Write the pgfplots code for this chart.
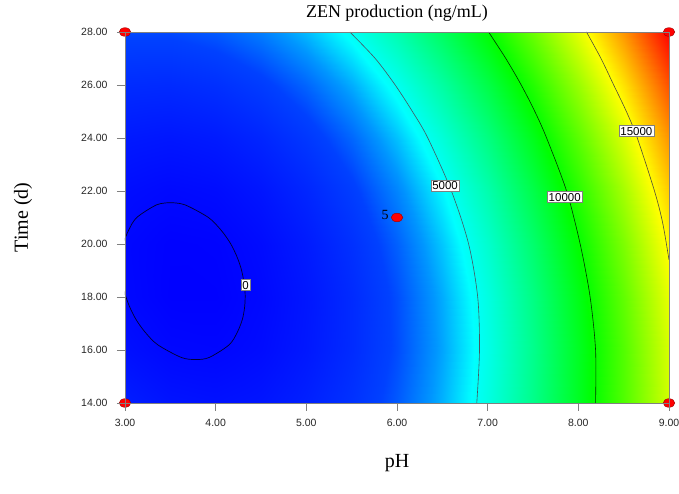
\documentclass[border=0pt]{standalone}
\usepackage{fontspec}
\setmainfont{Liberation Serif}
\setsansfont{Liberation Sans}
\usepackage{pgfplots}
\usepackage{pgfplotstable}
\pgfplotsset{compat=1.18}
\tikzset{clab/.style={fill=white, draw=gray, font=\sffamily\fontsize{11.5}{13}\selectfont, inner sep=1.4pt, line width=0.5pt}}

% response surface: pH (x), time in days (y), ZEN production (z)
\pgfplotstableread{
x y z
3.0 14 842
3.5 14 469
4.0 14 363
4.5 14 523
5.0 14 950
5.5 14 1643
6.0 14 2603
6.5 14 3829
7.0 14 5321
7.5 14 7081
8.0 14 9106
8.5 14 11399
9.0 14 13957
3.0 16 312
3.5 16 -9
4.0 16 -62
4.5 16 150
5.0 16 630
5.5 16 1376
6.0 16 2388
6.5 16 3667
7.0 16 5212
7.5 16 7024
8.0 16 9102
8.5 16 11447
9.0 16 14058
3.0 18 30
3.5 18 -238
4.0 18 -239
4.5 18 27
5.0 18 559
5.5 18 1357
6.0 18 2422
6.5 18 3753
7.0 18 5351
7.5 18 7216
8.0 18 9347
8.5 18 11744
9.0 18 14408
3.0 20 -2
3.5 20 -217
4.0 20 -166
4.5 20 153
5.0 20 737
5.5 20 1588
6.0 20 2705
6.5 20 4089
7.0 20 5740
7.5 20 7657
8.0 20 9840
8.5 20 12290
9.0 20 15007
3.0 22 215
3.5 22 53
4.0 22 157
4.5 22 527
5.0 22 1164
5.5 22 2068
6.0 22 3238
6.5 22 4675
7.0 22 6378
7.5 22 8347
8.0 22 10583
8.5 22 13086
9.0 22 15855
3.0 24 681
3.5 24 572
4.0 24 728
4.5 24 1151
5.0 24 1841
5.5 24 2797
6.0 24 4020
6.5 24 5509
7.0 24 7265
7.5 24 9287
8.0 24 11576
8.5 24 14131
9.0 24 16953
3.0 26 1397
3.5 26 1340
4.0 26 1549
4.5 26 2025
5.0 26 2767
5.5 26 3776
6.0 26 5051
6.5 26 6593
7.0 26 8401
7.5 26 10476
8.0 26 12817
8.5 26 15425
9.0 26 18299
3.0 28 2361
3.5 28 2357
4.0 28 2619
4.5 28 3147
5.0 28 3942
5.5 28 5003
6.0 28 6331
6.5 28 7926
7.0 28 9787
7.5 28 11914
8.0 28 14308
8.5 28 16968
9.0 28 19895
}\zensurf

\begin{document}
\begin{tikzpicture}
\useasboundingbox (-125pt,-91pt) rectangle (554pt,403pt);
\begin{axis}[
  at={(0pt,0pt)}, anchor=south west,
  scale only axis, width=544pt, height=371pt,
  xmin=3, xmax=9, ymin=14, ymax=28,
  xtick={3,4,5,6,7,8,9},
  ytick={14,16,18,20,22,24,26,28},
  tick pos=left,
  tick align=outside,
  major tick length=8pt,
  every tick/.style={gray, line width=0.8pt},
  axis line style={gray, line width=0.8pt},
  axis on top,
  clip mode=individual,
  /pgf/number format/fixed,
  /pgf/number format/fixed zerofill,
  /pgf/number format/precision=2,
  /pgf/number format/assume math mode=true,
  tick label style={font=\sffamily\fontsize{10.5}{12}\selectfont, text=black!85},
  yticklabel style={xshift=-6pt},
  xticklabel style={yshift=-5pt},
  title={ZEN production (ng/mL)},
  title style={font=\fontsize{18}{20}\selectfont, at={(axis description cs:0.5,1.0)}, anchor=south, yshift=1pt},
  xlabel={pH},
  xlabel style={font=\fontsize{20}{22}\selectfont, at={(axis description cs:0.5,-0.162)}, anchor=center},
  ylabel={Time (d)},
  ylabel style={font=\fontsize{20}{22}\selectfont, at={(axis description cs:-0.1875,0.5)}, anchor=center},
  colormap={de}{rgb255(0cm)=(0,0,255); rgb255(2cm)=(0,65,255); rgb255(3cm)=(0,150,255); rgb255(4cm)=(0,255,255); rgb255(8cm)=(0,255,0); rgb255(12cm)=(255,255,0); rgb255(16cm)=(255,0,0)},
  point meta min=-284, point meta max=19895,
]
\addplot[surf, shader=interp, mesh/cols=13, point meta=\thisrow{z}] table[x=x, y=y] {\zensurf};

% contour 0
\addplot[black!80!blue, line width=0.7pt, smooth] coordinates {
(3.50,21.56) (3.66,21.48) (3.92,21.0) (4.06,20.52) (4.16,20.04) (4.23,19.56)
(4.28,19.08) (4.31,18.6) (4.325,18.12) (4.32,17.64) (4.295,17.16) (4.24,16.68)
(4.15,16.2) (3.93,15.72) (3.78,15.64) (3.62,15.72) (3.36,16.2) (3.22,16.68)
(3.12,17.16) (3.05,17.64) (3.00,18.12) (2.97,18.6) (2.955,19.08) (2.96,19.56)
(2.985,20.04) (3.04,20.52) (3.13,21.0) (3.35,21.48) (3.50,21.56)};
% contour 5000
\addplot[black!70!cyan, line width=0.6pt, smooth] coordinates {
(6.88,14) (6.91,16) (6.89,18) (6.79,20) (6.60,22) (6.34,24) (6.17,25) (5.98,26) (5.76,27) (5.48,28)};
% contour 10000
\addplot[black!80!green, line width=0.6pt, smooth] coordinates {
(8.19,14) (8.19,16) (8.13,18) (8.02,20) (7.87,22) (7.65,24) (7.52,25) (7.37,26) (7.20,27) (7.01,28)};
% contour 15000
\addplot[black!80!yellow, line width=0.6pt, smooth] coordinates {
(9.0,19.4) (8.93,20.8) (8.84,22) (8.65,24) (8.53,25) (8.39,26) (8.25,27) (8.09,28)};

\node[clab] at (axis cs:4.33,18.45) {0};
\node[clab] at (axis cs:6.53,22.2) {5000};
\node[clab] at (axis cs:7.85,21.77) {10000};
\node[clab] at (axis cs:8.64,24.26) {15000};

% design points
\addplot[only marks, mark=*, mark size=4.3pt,
  mark options={fill=red, draw=red!60!black, line width=0.4pt, xscale=1.35}]
  coordinates {(3,14) (3,28) (9,14) (9,28) (6,21)};
\node[font=\fontsize{14}{16}\selectfont, anchor=east, inner sep=1pt] at (axis cs:5.92,21.1) {5};
\end{axis}
\end{tikzpicture}
\end{document}
